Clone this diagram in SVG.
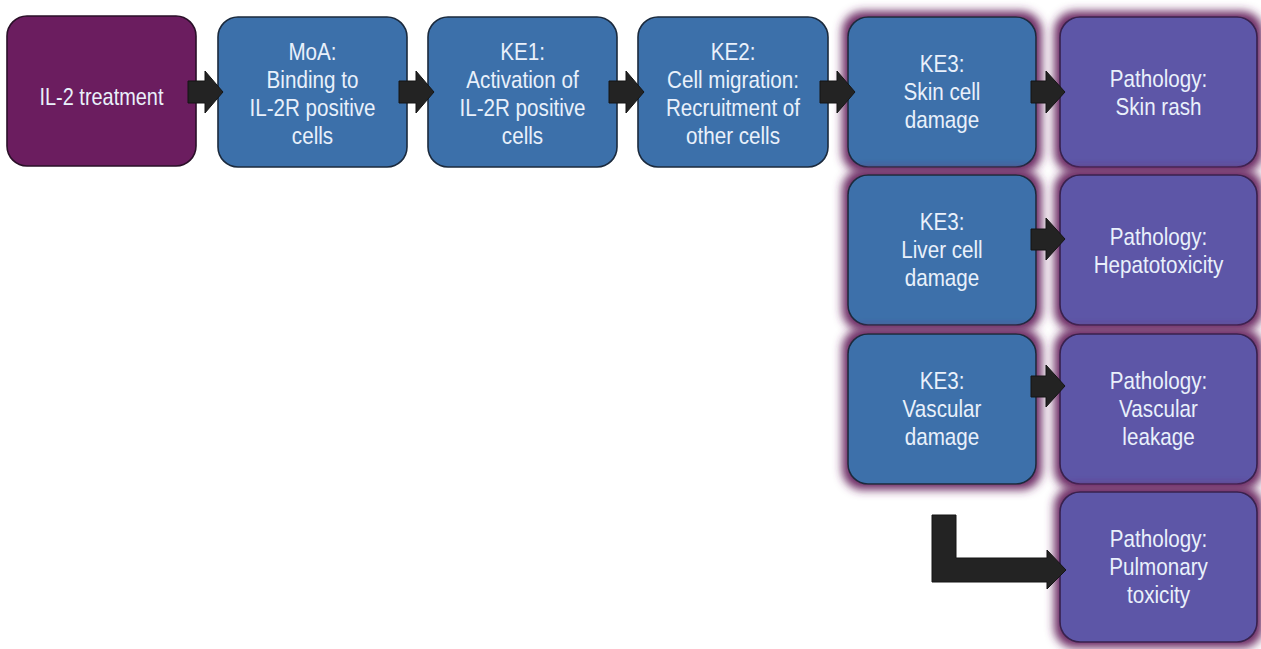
<svg xmlns="http://www.w3.org/2000/svg" width="1261" height="649" viewBox="0 0 1261 649">
<style>
.n rect{stroke-width:1.6}
.start rect{fill:#6b1d5f;stroke:#2a1028}
.blue rect{fill:#3c70aa;stroke:#1b2a3d}
.path rect{fill:#5d56a7;stroke:#37214d}
.glow rect{filter:url(#halo)}
text{font-family:"Liberation Sans",Arial,sans-serif;font-size:24px;fill:#e9f0fb;text-anchor:middle}
.arrow{fill:#232323;stroke:#151515;stroke-width:1}
</style>
<defs>
<filter id="halo" x="-20%" y="-20%" width="140%" height="140%">
<feMorphology in="SourceAlpha" operator="dilate" radius="5" result="d"/>
<feGaussianBlur in="d" stdDeviation="5" result="b"/>
<feFlood flood-color="#6a2862" flood-opacity="1"/>
<feComposite in2="b" operator="in" result="g"/>
<feMerge><feMergeNode in="g"/><feMergeNode in="SourceGraphic"/></feMerge>
</filter>
</defs>
<rect width="1261" height="649" fill="#ffffff"/>

<g id="n-il2" class="n start">
<rect x="7" y="16" width="189" height="150" rx="20"/>
<g transform="translate(101.5 0) scale(0.83 1)"><text x="0" y="105">IL-2 treatment</text></g>
</g>
<g id="n-moa" class="n blue">
<rect x="218" y="17" width="189" height="150" rx="20"/>
<g transform="translate(312.5 0) scale(0.86 1)">
<text x="0" y="60">MoA:</text><text x="0" y="88">Binding to</text><text x="0" y="116">IL-2R positive</text><text x="0" y="144">cells</text>
</g>
</g>
<g id="n-ke1" class="n blue">
<rect x="428" y="17" width="189" height="150" rx="20"/>
<g transform="translate(522.5 0) scale(0.86 1)">
<text x="0" y="60">KE1:</text><text x="0" y="88">Activation of</text><text x="0" y="116">IL-2R positive</text><text x="0" y="144">cells</text>
</g>
</g>
<g id="n-ke2" class="n blue">
<rect x="638" y="17" width="190" height="150" rx="20"/>
<g transform="translate(733 0) scale(0.86 1)">
<text x="0" y="60">KE2:</text><text x="0" y="88">Cell migration:</text><text x="0" y="116">Recruitment of</text><text x="0" y="144">other cells</text>
</g>
</g>
<g id="n-ke3-skin" class="n blue glow">
<rect x="848" y="17" width="188" height="150" rx="20"/>
<g transform="translate(942 0) scale(0.86 1)">
<text x="0" y="72">KE3:</text><text x="0" y="100">Skin cell</text><text x="0" y="128">damage</text>
</g>
</g>
<g id="n-ke3-liver" class="n blue glow">
<rect x="848" y="175" width="188" height="150" rx="20"/>
<g transform="translate(942 0) scale(0.86 1)">
<text x="0" y="230">KE3:</text><text x="0" y="258">Liver cell</text><text x="0" y="286">damage</text>
</g>
</g>
<g id="n-ke3-vasc" class="n blue glow">
<rect x="848" y="334" width="188" height="150" rx="20"/>
<g transform="translate(942 0) scale(0.86 1)">
<text x="0" y="389">KE3:</text><text x="0" y="417">Vascular</text><text x="0" y="445">damage</text>
</g>
</g>
<g id="n-path-skin" class="n path glow">
<rect x="1060" y="17" width="197" height="150" rx="20"/>
<g transform="translate(1158.5 0) scale(0.86 1)">
<text x="0" y="87">Pathology:</text><text x="0" y="115">Skin rash</text>
</g>
</g>
<g id="n-path-hep" class="n path glow">
<rect x="1060" y="175" width="197" height="150" rx="20"/>
<g transform="translate(1158.5 0) scale(0.86 1)">
<text x="0" y="245">Pathology:</text><text x="0" y="273">Hepatotoxicity</text>
</g>
</g>
<g id="n-path-vasc" class="n path glow">
<rect x="1060" y="334" width="197" height="150" rx="20"/>
<g transform="translate(1158.5 0) scale(0.86 1)">
<text x="0" y="389">Pathology:</text><text x="0" y="417">Vascular</text><text x="0" y="445">leakage</text>
</g>
</g>
<g id="n-path-pulm" class="n path glow">
<rect x="1060" y="492" width="197" height="150" rx="20"/>
<g transform="translate(1158.5 0) scale(0.86 1)">
<text x="0" y="547">Pathology:</text><text x="0" y="575">Pulmonary</text><text x="0" y="603">toxicity</text>
</g>
</g>

<g id="connectors">
<polygon class="arrow" points="188,81 205,81 205,71 223,92 205,113 205,103 188,103"/>
<polygon class="arrow" points="399,81 416,81 416,71 434,92 416,113 416,103 399,103"/>
<polygon class="arrow" points="609,81 626,81 626,71 644,92 626,113 626,103 609,103"/>
<polygon class="arrow" points="820,81 837,81 837,71 855,92 837,113 837,103 820,103"/>
<polygon class="arrow" points="1031,81 1046,81 1046,71 1065,92 1046,113 1046,103 1031,103"/>
<polygon class="arrow" points="1031,229 1046,229 1046,218 1065,239 1046,260 1046,250 1031,250"/>
<polygon class="arrow" points="1031,376 1046,376 1046,365 1065,386 1046,407 1046,397 1031,397"/>
<polygon class="arrow" points="932,515 956,515 956,558 1047,558 1047,550 1066,570 1047,589 1047,582 932,582"/>
</g>
</svg>
